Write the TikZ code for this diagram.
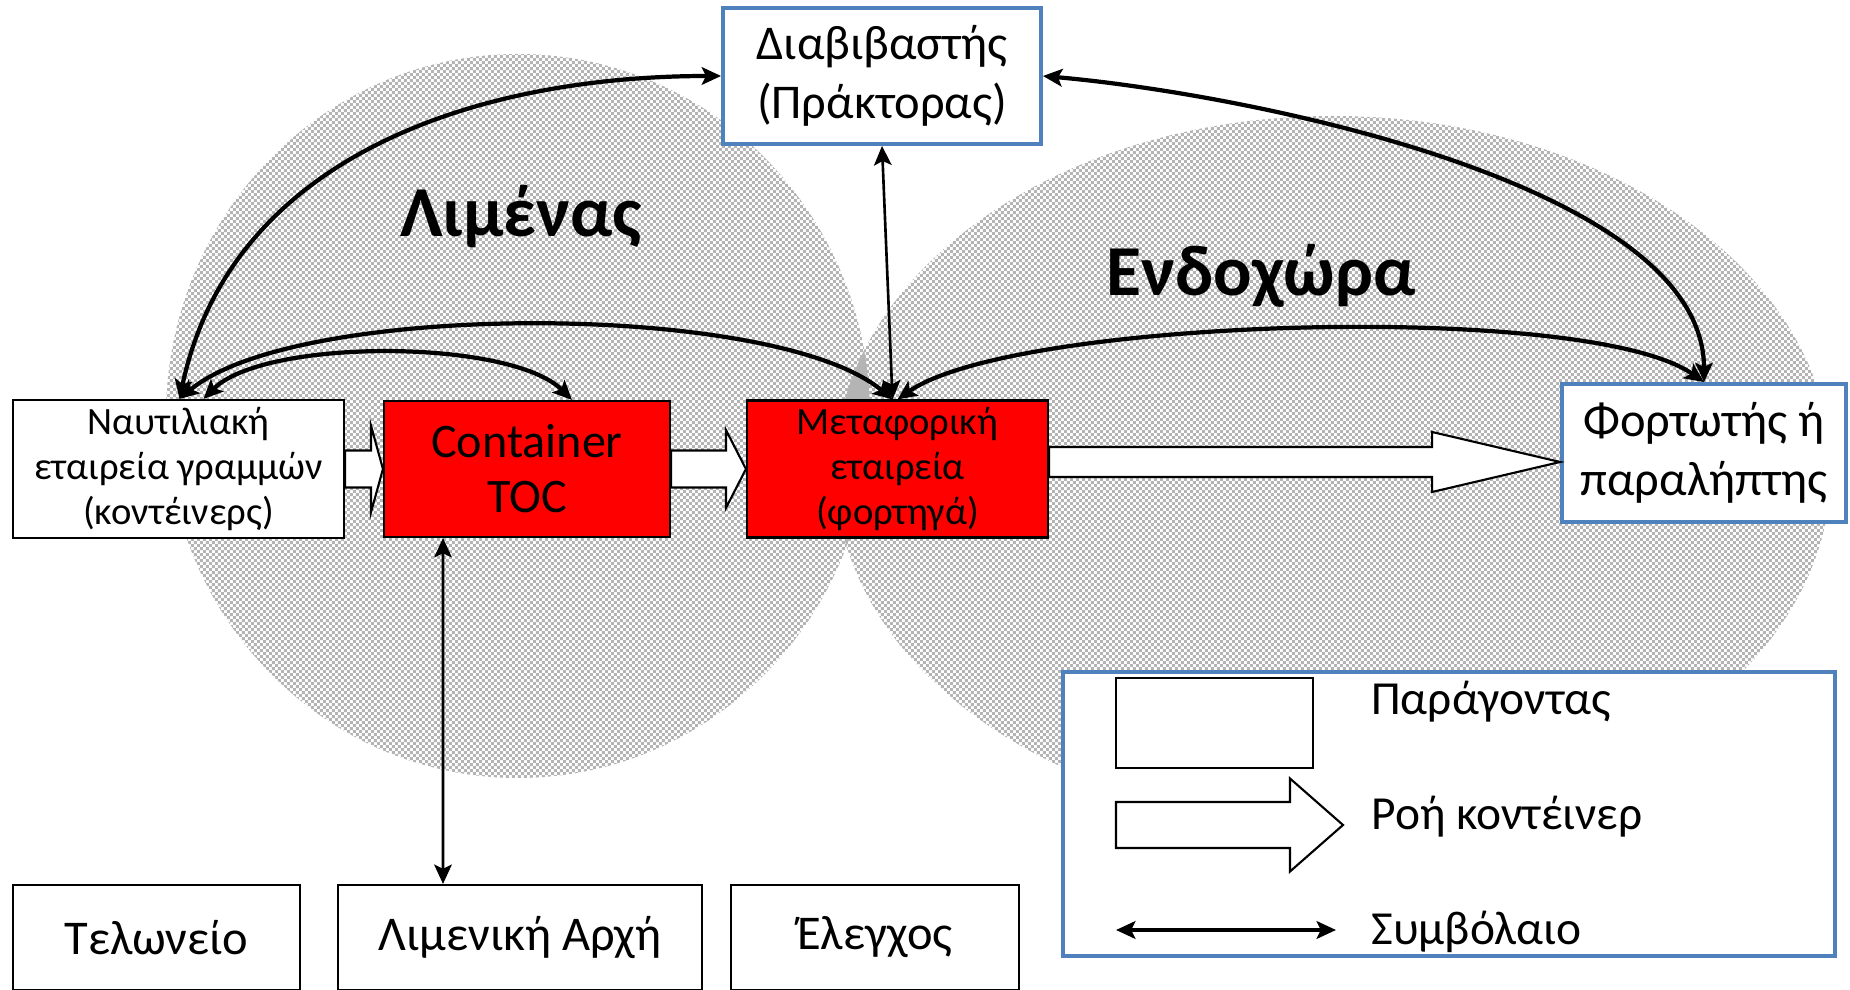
\documentclass[tikz,border=0pt]{standalone}
\usepackage{fontspec}
\setmainfont{Carlito}
\usetikzlibrary{positioning, arrows.meta, patterns.meta, calc}

\definecolor{dithergray}{HTML}{B4B4B4}
\definecolor{officeblue}{HTML}{4F81BD}
\definecolor{boxred}{HTML}{FF0000}

\tikzdeclarepattern{
  name=dither,
  type=colored,
  bounding box={(0,0) and (1.7pt,1.7pt)},
  tile size={(1.7pt,1.7pt)},
  code={
    \fill[dithergray] (0,0) rectangle (0.85pt,0.85pt);
    \fill[dithergray] (0.85pt,0.85pt) rectangle (1.7pt,1.7pt);
  }
}

% block arrow: tail point, tip point, shaft half-width, head half-width, head length
\newcommand{\flowarrow}[5]{%
  \draw[flow] let \p1 = #1, \p2 = #2 in
    (\x1,\y2+#3) -- (\x2-#5,\y2+#3) -- (\x2-#5,\y2+#4) -- (\x2,\y2)
    -- (\x2-#5,\y2-#4) -- (\x2-#5,\y2-#3) -- (\x1,\y2-#3) -- cycle;}

\begin{document}
\begin{tikzpicture}
  \def\boxline{0.6pt}
  \def\blueline{1.1pt}
  \tikzstyle{actor} = [draw, line width=\boxline, fill=white, align=center, inner sep=0pt]
  \tikzstyle{toc} = [actor, fill=boxred]
  \tikzstyle{party} = [actor, draw=officeblue, line width=\blueline]
  \tikzstyle{flow} = [draw, fill=white, line width=\boxline, line join=miter]
  \tikzstyle{contract} = [line width=1.2pt, <->, >={Stealth[length=5.5pt, width=5pt, inset=1.2pt]}]
  \tikzstyle{thin contract} = [contract, line width=0.75pt]
  \tikzstyle{region} = [font=\fontsize{20.4}{24}\selectfont\bfseries, anchor=base]
  \tikzstyle{small} = [font=\fontsize{11}{12.7}\selectfont]
  \tikzstyle{large} = [font=\fontsize{13.8}{16.6}\selectfont]
  \tikzstyle{key} = [font=\fontsize{13.5}{16}\selectfont, anchor=base west]

  \useasboundingbox (0,0) rectangle (18.5,9.9);

  % port and hinterland
  \fill[pattern=dither] (5.18,5.74) ellipse [x radius=3.52, y radius=3.62];
  \fill[pattern=dither] (13.33,5.20) ellipse [x radius=4.98, y radius=3.54];
  \node[region] (port) at (5.21,7.53) {Λιμένας};
  \node[region] (inland) at (12.61,6.94) {Ενδοχώρα};

  % actors
  \node[actor, small, minimum width=3.31cm, minimum height=1.38cm] (naut) at (1.785,5.21)
    {Ναυτιλιακή\\εταιρεία γραμμών\\(κοντέινερς)};
  \node[toc, font=\fontsize{13.7}{15.6}\selectfont, minimum width=2.86cm, minimum height=1.36cm] (toc) at (5.27,5.21)
    {Container\\TOC};
  \node[toc, small, minimum width=3.01cm, minimum height=1.37cm] (metaf) at (8.975,5.21)
    {Μεταφορική\\εταιρεία\\(φορτηγά)};
  \node[party, large, minimum width=2.84cm, minimum height=1.38cm] (fort) at (17.04,5.37)
    {Φορτωτής ή\\παραλήπτης};
  \node[party, large, minimum width=3.18cm, minimum height=1.36cm] (diab) at (8.82,9.14)
    {Διαβιβαστής\\(Πράκτορας)};

  \node[actor, large, minimum width=2.87cm, minimum height=1.05cm] (telon) at (1.565,0.525) {Τελωνείο};
  \node[actor, large, minimum width=3.64cm, minimum height=1.05cm] (limarch) at (5.20,0.525) {Λιμενική Αρχή};
  \node[actor, large, minimum width=2.88cm, minimum height=1.05cm] (elegx) at (8.75,0.525) {Έλεγχος};

  % container flow
  \flowarrow{(naut.east)}{(toc.west)}{0.185cm}{0.435cm}{0.12cm}
  \flowarrow{(toc.east)}{(metaf.west)}{0.185cm}{0.39cm}{0.20cm}
  \flowarrow{(metaf.east)}{($(fort.west)+(0,-0.09)$)}{0.15cm}{0.30cm}{1.28cm}

  % contracts
  \draw[contract] ([xshift=0.01cm]naut.north) to[out=78, in=180] (diab.west);
  \draw[contract] ([xshift=0.01cm]naut.north) to[out=40, in=140, looseness=0.55] ([xshift=-0.05cm]metaf.north);
  \draw[contract] ([xshift=0.25cm]naut.north) to[out=45, in=135, looseness=0.6] ([xshift=0.45cm]toc.north);
  \draw[thin contract] ([xshift=-0.05cm]metaf.north) -- (diab.south);
  \draw[contract] (metaf.north) to[out=35, in=145, looseness=0.45] (fort.north);
  \draw[contract] (diab.east) to[out=-5, in=90, looseness=0.7] (fort.north);
  \draw[thin contract] ([xshift=-0.84cm]toc.south) -- ([xshift=-0.77cm]limarch.north);

  % legend
  \node[party, minimum width=7.72cm, minimum height=2.84cm] (legend) at (14.49,1.76) {};
  \node[actor, minimum width=1.97cm, minimum height=0.90cm] (legactor) at (12.145,2.67) {};
  \coordinate (legtail) at (11.16,1.65);
  \coordinate (legtip) at (13.43,1.65);
  \flowarrow{(legtail)}{(legtip)}{0.23cm}{0.465cm}{0.53cm}
  \coordinate (legleft) at (11.16,0.60);
  \coordinate (legright) at (13.36,0.60);
  \draw[contract] (legleft) -- (legright);
  \node[key] (legtext1) at (13.59,2.75) {Παράγοντας};
  \node[key] (legtext2) at (13.59,1.60) {Ροή κοντέινερ};
  \node[key] (legtext3) at (13.59,0.45) {Συμβόλαιο};
\end{tikzpicture}
\end{document}
